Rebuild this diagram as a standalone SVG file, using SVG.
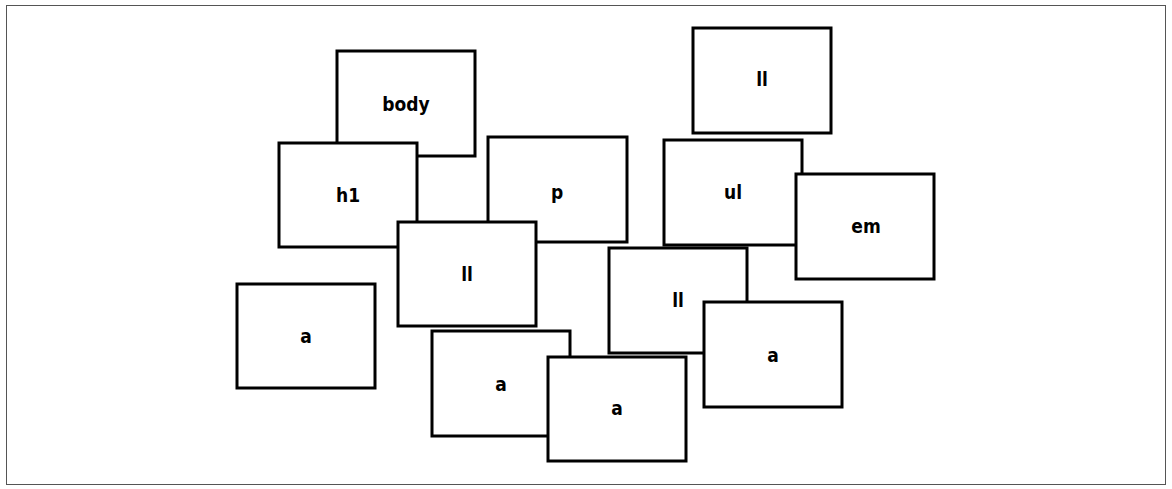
<svg xmlns="http://www.w3.org/2000/svg" width="1172" height="489" viewBox="0 0 1172 489">
<style>
.b{fill:#fff;stroke:#000;stroke-width:3}
.t{font-family:"DejaVu Sans Condensed","Liberation Sans",Arial,sans-serif;font-stretch:condensed;font-weight:bold;font-size:19px;text-anchor:middle;dominant-baseline:central;fill:#000}
</style>
<rect x="6.5" y="5.5" width="1159" height="479" fill="#fff" stroke="#555" stroke-width="1"/>
<g id="connectors"/>
<g id="body"><rect class="b" x="337" y="51" width="138" height="105"/><text class="t" x="406" y="104">body</text></g>
<g id="h1"><rect class="b" x="279" y="143" width="138" height="104"/><text class="t" x="348" y="195">h1</text></g>
<g id="p"><rect class="b" x="488" y="137" width="139" height="105"/><text class="t" x="557" y="192">p</text></g>
<g id="ll1"><rect class="b" x="693" y="28" width="138" height="105"/><text class="t" x="762" y="79">ll</text></g>
<g id="ul"><rect class="b" x="664" y="140" width="138" height="105"/><text class="t" x="733" y="192">ul</text></g>
<g id="em"><rect class="b" x="796" y="174" width="138" height="105"/><text class="t" x="866" y="226">em</text></g>
<g id="ll2"><rect class="b" x="398" y="222" width="138" height="104"/><text class="t" x="467" y="274">ll</text></g>
<g id="ll3"><rect class="b" x="609" y="248" width="138" height="105"/><text class="t" x="678" y="300">ll</text></g>
<g id="a1"><rect class="b" x="237" y="284" width="138" height="104"/><text class="t" x="306" y="336">a</text></g>
<g id="a2"><rect class="b" x="432" y="331" width="138" height="105"/><text class="t" x="501" y="384">a</text></g>
<g id="a3"><rect class="b" x="548" y="357" width="138" height="104"/><text class="t" x="617" y="408">a</text></g>
<g id="a4"><rect class="b" x="704" y="302" width="138" height="105"/><text class="t" x="773" y="355">a</text></g>
</svg>
